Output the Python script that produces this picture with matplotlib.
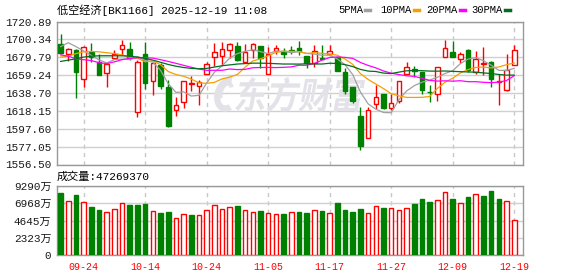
import numpy as np
import matplotlib.pyplot as plt
from matplotlib.lines import Line2D
from matplotlib.textpath import TextPath
from matplotlib.patches import PathPatch, Arc
from matplotlib.font_manager import FontProperties
from matplotlib.transforms import Affine2D, IdentityTransform

plt.rcParams['font.family'] = ['Liberation Mono', 'Noto Sans CJK SC']

dates = ['09-19', '09-22', '09-23', '09-24', '09-25', '09-26', '09-29', '09-30', '10-09', '10-10',
         '10-13', '10-14', '10-15', '10-16', '10-17', '10-20', '10-21', '10-22', '10-23', '10-24',
         '10-27', '10-28', '10-29', '10-30', '10-31', '11-03', '11-04', '11-05', '11-06', '11-07',
         '11-10', '11-11', '11-12', '11-13', '11-14', '11-17', '11-18', '11-19', '11-20', '11-21',
         '11-24', '11-25', '11-26', '11-27', '11-28', '12-01', '12-02', '12-03', '12-04', '12-05',
         '12-08', '12-09', '12-10', '12-11', '12-12', '12-15', '12-16', '12-17', '12-18', '12-19']

opens = [1694.7, 1684.1, 1688.7, 1654.7, 1686.0, 1674.7, 1661.5, 1678.5, 1689.8, 1689.8,
         1617.4, 1683.4, 1652.8, 1670.9, 1645.7, 1619.3, 1628.3, 1649.1, 1647.2, 1660.8,
         1679.6, 1681.5, 1687.9, 1692.4, 1674.7, 1687.9, 1692.4, 1660.8, 1686.8, 1686.8,
         1688.0, 1691.0, 1681.1, 1672.8, 1678.5, 1683.0, 1679.6, 1663.4, 1645.7, 1611.8,
         1587.2, 1625.7, 1637.0, 1621.9, 1629.5, 1660.4, 1666.0, 1662.3, 1640.4, 1637.0,
         1679.6, 1685.6, 1677.3, 1688.7, 1663.4, 1672.4, 1674.7, 1650.8, 1641.9, 1670.9]
highs = [1706.8, 1690.0, 1689.4, 1692.8, 1696.2, 1684.1, 1672.8, 1687.9, 1699.2, 1697.3,
         1676.6, 1697.3, 1674.7, 1673.6, 1654.0, 1634.4, 1652.8, 1658.5, 1654.0, 1674.7,
         1696.2, 1697.0, 1696.2, 1697.0, 1695.4, 1696.2, 1692.4, 1691.7, 1693.6, 1690.9,
         1692.4, 1698.1, 1681.1, 1693.6, 1693.6, 1693.6, 1680.4, 1667.9, 1645.7, 1623.1,
         1623.1, 1647.6, 1637.0, 1638.1, 1652.4, 1674.7, 1669.8, 1662.3, 1648.3, 1669.1,
         1699.2, 1698.1, 1685.3, 1689.8, 1686.8, 1691.7, 1675.8, 1660.8, 1683.4, 1693.6]
lows = [1684.1, 1675.1, 1632.9, 1645.3, 1674.7, 1659.2, 1645.3, 1677.3, 1682.2, 1676.6,
        1610.6, 1643.4, 1636.3, 1643.4, 1599.7, 1612.5, 1621.2, 1640.8, 1624.6, 1660.0,
        1669.8, 1670.9, 1678.9, 1675.8, 1674.7, 1678.5, 1667.9, 1660.4, 1684.1, 1678.5,
        1684.1, 1682.2, 1667.2, 1669.0, 1677.3, 1683.0, 1664.5, 1637.0, 1627.6, 1572.9,
        1587.2, 1620.8, 1620.0, 1619.3, 1627.6, 1660.4, 1657.0, 1637.0, 1628.3, 1629.5,
        1679.6, 1680.4, 1673.6, 1663.4, 1660.4, 1659.6, 1645.3, 1624.9, 1640.8, 1670.9]
closes = [1684.9, 1689.8, 1663.4, 1691.7, 1679.6, 1659.6, 1671.7, 1683.0, 1694.3, 1678.5,
          1674.3, 1650.2, 1673.6, 1647.2, 1601.2, 1624.6, 1652.8, 1650.2, 1651.0, 1672.4,
          1686.0, 1689.8, 1695.1, 1676.6, 1685.3, 1695.4, 1678.5, 1684.1, 1690.9, 1684.1,
          1687.3, 1686.8, 1673.6, 1686.8, 1677.3, 1686.8, 1664.5, 1640.8, 1629.5, 1577.4,
          1618.9, 1634.0, 1621.9, 1627.6, 1652.4, 1669.1, 1664.5, 1641.9, 1639.3, 1669.1,
          1690.9, 1680.4, 1683.0, 1665.3, 1677.3, 1672.8, 1655.1, 1653.0, 1665.3, 1688.7]

ma5 = [1692.0, 1696.5, 1692.0, 1687.0, 1681.9, 1676.8, 1673.2, 1677.1, 1677.6, 1677.4,
       1680.4, 1676.1, 1674.2, 1664.8, 1649.3, 1639.4, 1639.9, 1635.2, 1636.0, 1650.2,
       1662.5, 1669.9, 1678.9, 1684.0, 1686.6, 1688.4, 1686.2, 1684.0, 1686.8, 1686.6,
       1685.0, 1686.3, 1684.2, 1683.4, 1682.1, 1682.3, 1677.8, 1671.2, 1659.8, 1639.8,
       1626.2, 1620.1, 1616.3, 1616.0, 1631.0, 1641.0, 1647.1, 1651.1, 1653.4, 1656.8,
       1661.1, 1664.3, 1672.5, 1677.7, 1679.4, 1675.8, 1670.7, 1664.7, 1664.7, 1667.0]
ma10 = [1680.0, 1681.0, 1684.0, 1686.0, 1686.5, 1686.0, 1685.0, 1684.0, 1682.5, 1679.7,
        1678.6, 1674.6, 1675.7, 1671.2, 1663.4, 1659.9, 1658.0, 1654.7, 1650.4, 1649.8,
        1650.9, 1654.9, 1657.0, 1660.0, 1668.4, 1675.5, 1678.0, 1681.4, 1685.4, 1686.6,
        1686.5, 1686.3, 1684.1, 1685.1, 1684.3, 1683.5, 1682.1, 1677.7, 1671.6, 1660.9,
        1654.3, 1649.0, 1643.8, 1637.9, 1635.4, 1633.6, 1633.6, 1633.7, 1634.7, 1643.9,
        1651.1, 1655.7, 1661.8, 1665.6, 1668.1, 1668.5, 1667.5, 1668.6, 1671.2, 1673.2]
ma20 = [1682.5, 1681.0, 1678.0, 1677.0, 1676.0, 1673.5, 1672.5, 1674.5, 1677.0, 1678.5,
        1679.2, 1679.3, 1678.8, 1677.0, 1675.0, 1672.8, 1670.5, 1668.3, 1666.3, 1664.7,
        1664.8, 1664.8, 1666.3, 1665.6, 1665.9, 1667.7, 1668.0, 1668.1, 1667.9, 1668.2,
        1668.7, 1670.6, 1670.6, 1672.6, 1676.4, 1679.5, 1680.1, 1679.6, 1678.5, 1673.8,
        1670.4, 1667.6, 1664.0, 1661.5, 1659.9, 1658.5, 1657.8, 1655.7, 1653.2, 1652.4,
        1652.7, 1652.3, 1652.8, 1651.7, 1651.7, 1651.0, 1650.6, 1651.2, 1653.0, 1658.5]
ma30 = [1675.0, 1676.5, 1678.0, 1680.0, 1681.0, 1681.5, 1681.5, 1681.5, 1681.5, 1681.0,
        1680.0, 1678.5, 1676.5, 1674.0, 1671.5, 1669.5, 1668.0, 1667.0, 1666.5, 1667.0,
        1668.5, 1670.0, 1671.0, 1672.0, 1672.5, 1673.0, 1673.0, 1672.8, 1672.4, 1672.0,
        1672.0, 1671.9, 1672.3, 1672.1, 1672.0, 1672.9, 1672.7, 1671.3, 1669.1, 1665.8,
        1663.9, 1663.4, 1661.6, 1661.0, 1662.7, 1664.2, 1664.6, 1664.3, 1663.9, 1663.8,
        1664.0, 1663.6, 1663.2, 1662.9, 1662.6, 1661.8, 1661.1, 1660.0, 1659.2, 1659.3]

# volume in 万
vols = [8393, 7271, 8078, 7136, 6463, 6059, 5790, 6149, 7001, 6732,
        6732, 6867, 5924, 5700, 5790, 4937, 5520, 5386, 5341, 6059,
        6687, 6149, 6418, 6597, 6059, 5790, 5924, 5610, 5520, 5520,
        5790, 5790, 5655, 6014, 5924, 5610, 7001, 6014, 5790, 6193,
        5610, 6552, 6328, 6283, 6014, 6283, 6867, 7540, 7136, 7360,
        8437, 7540, 6956, 7809, 8168, 7944, 8617, 7540, 7226, 4727]
vol_last = 47269370

price_ticks = [1556.50, 1577.05, 1597.60, 1618.15, 1638.70, 1659.24, 1679.79, 1700.34, 1720.89]
vol_ticks = [0, 2322.5, 4645, 6967.5, 9290]
vol_labels = ['0', '2323万', '4645万', '6968万', '9290万']
ma_names = ['5PMA', '10PMA', '20PMA', '30PMA']
ma_colors = ['#a0a0a0', '#f5a000', '#ff00ff', '#006e1e']

opens, highs, lows, closes = map(np.array, (opens, highs, lows, closes))
x = np.arange(len(dates))
up = closes >= opens
vol_up = np.r_[False, np.diff(closes) > 0]

RED = '#ff0000'
GREEN = '#008000'
WM = '#e2e2e8'
W, H = 578, 276

fig = plt.figure(figsize=(W / 100, H / 100), dpi=100)
ax = fig.add_axes([57 / W, 1 - 164.5 / H, 465.5 / W, 143 / H])
axv = fig.add_axes([57 / W, 1 - 255 / H, 465.5 / W, 69 / H])

# watermark (pixel coords, slanted text + swoosh)
tp = TextPath((0, 0), '东方财富', size=1, prop=FontProperties(family='Noto Sans CJK SC', weight='bold'))
ext = tp.get_extents()
tr = (Affine2D().translate(-ext.x0 - ext.width / 2, -ext.y0 - ext.height / 2)
      .scale(125 / ext.width, 35 / ext.height).skew_deg(10, 0).translate(300, H - 94.5))
ax.add_artist(PathPatch(tr.transform_path(tp), transform=IdentityTransform(),
                        facecolor=WM, edgecolor='none', zorder=1.5))
ax.add_artist(Arc((228, H - 94), 20, 30, angle=-20, theta1=95, theta2=300,
                  transform=IdentityTransform(), color=WM, lw=4.5, zorder=1.5))
ax.add_artist(Arc((226, H - 92), 10, 18, angle=-20, theta1=60, theta2=250,
                  transform=IdentityTransform(), color=WM, lw=3, zorder=1.5))

# candles
for i in x:
    ax.vlines(i, lows[i], highs[i], color=RED if up[i] else GREEN, lw=1, zorder=2)
body_lo = np.minimum(opens, closes)
body_h = np.maximum(np.abs(closes - opens), 0.3)
ax.bar(x[up], body_h[up], 0.6, bottom=body_lo[up], facecolor='white', edgecolor=RED, lw=1, zorder=3)
ax.bar(x[~up], body_h[~up], 0.6, bottom=body_lo[~up], color=GREEN, edgecolor=GREEN, lw=1, zorder=3)

for ma, c in zip([ma5, ma10, ma20, ma30], ma_colors):
    ax.plot(x, ma, color=c, lw=0.9, zorder=4)

ax.set_xlim(-0.47, 60.08)
ax.set_ylim(price_ticks[0], price_ticks[-1])
ax.set_yticks(price_ticks)
ax.set_yticklabels(['%.2f' % t for t in price_ticks])
ax.set_xticks(x[3::8])
ax.set_xticklabels([])

# volume
axv.bar(x[vol_up], np.array(vols)[vol_up], 0.6, facecolor='white', edgecolor=RED, lw=1, zorder=3)
axv.bar(x[~vol_up], np.array(vols)[~vol_up], 0.6, color=GREEN, edgecolor=GREEN, lw=1, zorder=3)
axv.set_xlim(-0.47, 60.08)
axv.set_ylim(0, vol_ticks[-1])
axv.set_yticks(vol_ticks)
axv.set_yticklabels(vol_labels)
axv.set_xticks(x[3::8])
axv.set_xticklabels([dates[i] for i in x[3::8]])

for a in (ax, axv):
    a.grid(axis='y', color='#d0d0d0', lw=1, ls='-', zorder=1)
    a.grid(axis='x', color='#c8c8c8', lw=1, ls=(0, (3, 3)), zorder=1)
    a.set_axisbelow(True)
    a.tick_params(length=0, pad=4, labelsize=7.9, labelcolor='#1a1a1a')
    for s in a.spines.values():
        s.set_color('#999999')
        s.set_linewidth(1)
axv.tick_params(axis='x', labelcolor=RED, labelsize=7.2, pad=5)

# header texts
fig.text(57 / W, 1 - 10 / H, '低空经济[BK1166] 2025-12-19 11:08', va='center', fontsize=8, color='#000000')
fig.text(57 / W, 1 - 177 / H, '成交量:%d' % vol_last, va='center', fontsize=8, color='#000000')
leg_x = [338, 380, 426, 471]
for name, c, lx in zip(ma_names, ma_colors, leg_x):
    fig.text(lx / W, 1 - 10 / H, name, va='center', fontsize=7.6, color='#000000')
    mx = lx + 6.3 * len(name) + 2
    fig.add_artist(Line2D([mx / W, (mx + 5) / W], [1 - 10 / H, 1 - 10 / H], color=c, lw=2.5))

fig.savefig('out.png', dpi=100)
